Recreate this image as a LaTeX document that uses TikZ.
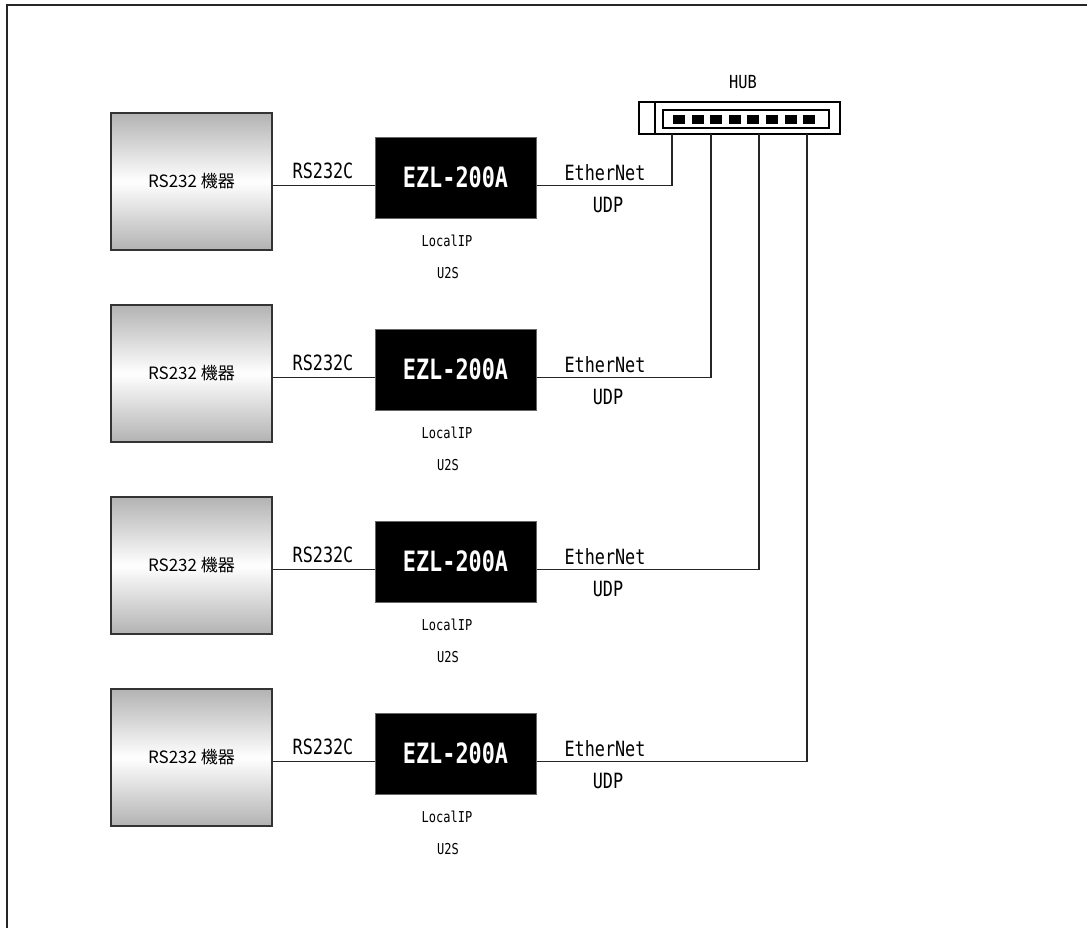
\documentclass[tikz,border=0pt]{standalone}
\usepackage{fontspec}
\newfontfamily\monof[FakeStretch=0.8]{DejaVu Sans Mono}
\newfontfamily\ezlf[FakeStretch=0.78]{DejaVu Sans Mono Bold}
\newfontfamily\hubf[FakeStretch=0.85]{DejaVu Sans Mono}
\newfontfamily\jpf{Noto Sans CJK JP}
\begin{document}
\begin{tikzpicture}[x=1pt,y=-1pt,
  wire/.style={line width=1.9pt,black!85},
  devbox/.style={draw=black!80,line width=2pt,minimum width=161pt,minimum height=137pt,inner sep=0pt,
    top color=black!30,bottom color=black!30,middle color=white,
    font=\jpf\fontsize{17}{20}\selectfont},
  ezlbox/.style={draw=black!60,line width=1pt,fill=black,minimum width=161pt,minimum height=81pt,inner sep=0pt,
    text=white,font=\ezlf\fontsize{28}{32}\selectfont},
  lbl/.style={inner sep=0pt,font=\monof\fontsize{21}{24}\selectfont},
  small/.style={inner sep=0pt,font=\monof\fontsize{15}{18}\selectfont},
]
\useasboundingbox (0,0) rectangle (1087,927);
% frame
\draw[line width=2.2pt,black!85] (7,940) -- (7,5) -- (1100,5);
% hub
\node[draw,line width=1.9pt,minimum width=201pt,minimum height=32pt,inner sep=0pt] (hub) at (739.5,118) {};
\draw[line width=1.9pt] (655,102) -- (655,134);
\draw[line width=1.9pt] (663,110) rectangle (829,128);
\foreach \k in {0,...,7}{
  \fill (673+\k*18.6,115) rectangle ++(12,9);
}
\node[inner sep=0pt,font=\hubf\fontsize{18}{20}\selectfont] (hublbl) at (743,82) {HUB};
\coordinate (p1) at (672,134);
\coordinate (p2) at (711,134);
\coordinate (p3) at (759,134);
\coordinate (p4) at (807,134);
\foreach \i in {1,...,4}{
  \pgfmathsetmacro{\dy}{192*(\i-1)}
  \node[devbox] (dev\i) at (191.5,181.5+\dy) {RS232 機器};
  \node[ezlbox] (ezl\i) at (455.5,177.5+\dy) {EZL-200A};
  \coordinate (r\i) at (0,185.5+\dy);
  \draw[wire] (dev\i.east |- r\i) -- (ezl\i.west |- r\i);
  \draw[wire] (ezl\i.east |- r\i) -- (p\i |- r\i) -- (p\i);
  \node[lbl] (rs\i) at (323,171+\dy) {RS232C};
  \node[lbl] (eth\i) at (605,173+\dy) {EtherNet};
  \node[lbl] (udp\i) at (608,205+\dy) {UDP};
  \node[small] (lip\i) at (447,241+\dy) {LocalIP};
  \node[small] (u2s\i) at (448,273+\dy) {U2S};
}
\end{tikzpicture}
\end{document}
